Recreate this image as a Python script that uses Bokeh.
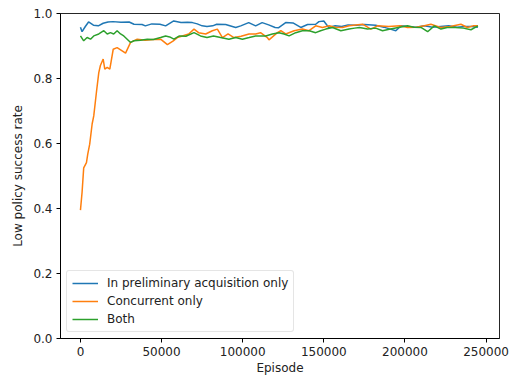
from bokeh.plotting import figure
from bokeh.models import FixedTicker, NumeralTickFormatter, Range1d, Legend, LegendItem
from bokeh.embed import file_html
from bokeh.resources import INLINE

# ---- data ----
ep_blue = [0, 1000, 3000, 5000, 8000, 11000, 14000, 17000, 20000, 25000,
           30000, 33000, 38000, 40000, 44000, 49000, 52500, 57500, 62000, 66000,
           69000, 72000, 75000, 78000, 81500, 84000, 89500, 95700, 98800, 103700,
           108000, 112000, 116000, 120000, 122000, 126500, 131000, 135800, 140000, 145000,
           147000, 150000, 153000, 157000, 161000, 165000, 170000, 175000, 182000, 187000,
           191000, 194400, 197500, 202000, 207000, 212000, 217000, 222000, 227000, 232000,
           237000, 241000, 245000]
rate_blue = [0.958, 0.944, 0.96, 0.974, 0.964, 0.962, 0.97, 0.974, 0.975, 0.973,
             0.974, 0.967, 0.966, 0.962, 0.968, 0.967, 0.962, 0.977, 0.972, 0.973,
             0.972, 0.968, 0.962, 0.96, 0.962, 0.967, 0.966, 0.957, 0.962, 0.972,
             0.962, 0.972, 0.965, 0.957, 0.956, 0.972, 0.971, 0.957, 0.966, 0.967,
             0.975, 0.977, 0.957, 0.962, 0.96, 0.965, 0.964, 0.966, 0.964, 0.958,
             0.952, 0.947, 0.962, 0.96, 0.958, 0.962, 0.958, 0.96, 0.962, 0.958,
             0.96, 0.96, 0.958]

ep_orange = [0, 1000, 2000, 3700, 4500, 5700, 7200, 8200, 9900, 11300,
             12300, 14000, 15000, 16500, 18100, 20200, 22600, 25700, 27800, 30900,
             35000, 40000, 45000, 49400, 53600, 57000, 59700, 62800, 66700, 70000,
             72800, 77200, 81300, 84400, 87500, 91000, 94600, 99000, 103900, 108000,
             111000, 115200, 116200, 121400, 123500, 126500, 131700, 136800, 140900, 145000,
             149200, 153300, 157000, 161500, 165600, 173900, 179000, 183000, 190000, 197000,
             201600, 207000, 212000, 216000, 222000, 228000, 234500, 238500, 242000, 245000]
rate_orange = [0.395, 0.45, 0.525, 0.541, 0.567, 0.598, 0.66, 0.685, 0.76, 0.818,
               0.84, 0.86, 0.829, 0.834, 0.829, 0.89, 0.895, 0.885, 0.878, 0.911,
               0.921, 0.918, 0.92, 0.921, 0.904, 0.915, 0.926, 0.931, 0.937, 0.952,
               0.941, 0.937, 0.947, 0.952, 0.926, 0.937, 0.926, 0.93, 0.937, 0.937,
               0.941, 0.926, 0.919, 0.941, 0.947, 0.937, 0.947, 0.952, 0.947, 0.962,
               0.957, 0.962, 0.958, 0.957, 0.962, 0.967, 0.952, 0.962, 0.96, 0.962,
               0.957, 0.958, 0.962, 0.967, 0.957, 0.96, 0.967, 0.957, 0.962, 0.962]

ep_green = [0, 2000, 4100, 6200, 8200, 11300, 14400, 16500, 18500, 20500,
            22600, 24700, 26700, 28800, 30900, 33000, 37000, 41200, 45000, 49400,
            52500, 55000, 57600, 61000, 65000, 70000, 74000, 78000, 82000, 86400,
            91500, 95700, 99800, 104000, 108000, 114200, 118300, 122400, 125500, 128600,
            132700, 136800, 141000, 145000, 148000, 151200, 155400, 160500, 165600, 169000,
            172000, 177000, 182000, 186200, 191000, 196000, 201600, 205500, 209900, 214000,
            218100, 222200, 226000, 231000, 236000, 240700, 245000]
rate_green = [0.931, 0.916, 0.926, 0.921, 0.931, 0.937, 0.947, 0.937, 0.941, 0.937,
              0.947, 0.937, 0.931, 0.921, 0.911, 0.916, 0.918, 0.921, 0.92, 0.926,
              0.931, 0.928, 0.921, 0.931, 0.93, 0.941, 0.931, 0.926, 0.931, 0.926,
              0.921, 0.926, 0.921, 0.926, 0.931, 0.931, 0.937, 0.941, 0.937, 0.931,
              0.941, 0.947, 0.947, 0.941, 0.947, 0.952, 0.957, 0.947, 0.952, 0.955,
              0.957, 0.952, 0.955, 0.947, 0.952, 0.957, 0.962, 0.958, 0.957, 0.944,
              0.962, 0.952, 0.957, 0.957, 0.955, 0.95, 0.962]

series_names = ["In preliminary acquisition only", "Concurrent only", "Both"]
x_ticks = [0, 50000, 100000, 150000, 200000, 250000]
y_ticks = [0.0, 0.2, 0.4, 0.6, 0.8, 1.0]

FONT = "DejaVu Sans"
FS = "12px"

p = figure(width=513, height=377, output_backend="svg", toolbar_location=None,
           x_range=Range1d(-12300, 258300), y_range=Range1d(0, 1.0),
           min_border_left=60, min_border_right=14, min_border_top=13, min_border_bottom=39)

colors = ["#1f77b4", "#ff7f0e", "#2ca02c"]
r1 = p.line(ep_blue, rate_blue, line_color=colors[0], line_width=1.5)
r2 = p.line(ep_orange, rate_orange, line_color=colors[1], line_width=1.5)
r3 = p.line(ep_green, rate_green, line_color=colors[2], line_width=1.5)

p.xgrid.visible = False
p.ygrid.visible = False
p.outline_line_color = "black"
p.outline_line_width = 1
p.outline_line_alpha = 0.85

for ax in (p.xaxis[0], p.yaxis[0]):
    ax.major_label_text_font = FONT
    ax.major_label_text_font_size = FS
    ax.major_label_text_color = "#222222"
    ax.axis_label_text_font = FONT
    ax.axis_label_text_font_size = FS
    ax.axis_label_text_font_style = "normal"
    ax.axis_label_text_color = "#222222"
    ax.minor_tick_line_color = None
    ax.major_tick_out = 4
    ax.major_tick_in = 0
    ax.axis_line_color = "black"
    ax.major_tick_line_color = "black"

p.xaxis.ticker = FixedTicker(ticks=x_ticks)
p.xaxis.formatter = NumeralTickFormatter(format="0")
p.yaxis.ticker = FixedTicker(ticks=y_ticks)
p.yaxis.formatter = NumeralTickFormatter(format="0.0")
p.xaxis.axis_label = "Episode"
p.yaxis.axis_label = "Low policy success rate"
p.xaxis.major_label_standoff = 4
p.yaxis.major_label_standoff = 4
p.xaxis.axis_label_standoff = 2
p.yaxis.axis_label_standoff = 5

legend = Legend(items=[LegendItem(label=series_names[0], renderers=[r1]),
                       LegendItem(label=series_names[1], renderers=[r2]),
                       LegendItem(label=series_names[2], renderers=[r3])],
                location="bottom_left")
legend.label_text_font = FONT
legend.label_text_font_size = FS
legend.label_text_color = "#222222"
legend.glyph_width = 26
legend.glyph_height = 14
legend.label_height = 14
legend.spacing = 4
legend.padding = 5
legend.margin = 6
legend.label_standoff = 9
legend.border_line_color = "#cccccc"
legend.border_line_width = 1
legend.background_fill_alpha = 0.8
try:
    legend.border_radius = 3
except Exception:
    pass
p.add_layout(legend, "center")

open("out.html", "w").write(file_html(p, INLINE))
